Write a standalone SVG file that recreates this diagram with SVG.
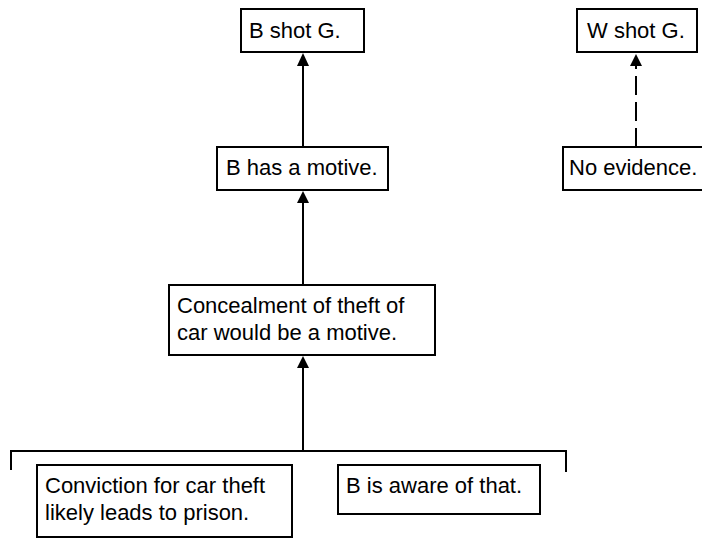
<svg xmlns="http://www.w3.org/2000/svg" width="702" height="539" viewBox="0 0 702 539">
<style>
.box{fill:#fff;stroke:#000;stroke-width:2}
.t{font-family:"Liberation Sans",Arial,sans-serif;font-size:22px;fill:#000}
.c{stroke:#000;stroke-width:2;fill:none}
.dash{stroke-dasharray:19 7}
</style>
<defs>
<marker id="ah" markerWidth="12" markerHeight="13" refX="6" refY="0" orient="0" markerUnits="userSpaceOnUse" overflow="visible">
<path d="M0,13 L6,0 L12,13 Z" fill="#000"/>
</marker>
</defs>
<rect width="702" height="539" fill="#fff"/>
<g id="connectors">
<line class="c" x1="303" y1="147" x2="303" y2="66"/>
<path d="M297,66 L303,53 L309,66 Z" fill="#000"/>
<line class="c" x1="303" y1="285" x2="303" y2="203"/>
<path d="M297,203 L303,191 L309,203 Z" fill="#000"/>
<line class="c" x1="303" y1="451" x2="303" y2="368"/>
<path d="M297,368 L303,356 L309,368 Z" fill="#000"/>
<line class="c dash" x1="636" y1="147" x2="636" y2="66"/>
<path d="M630,66 L636,54 L642,66 Z" fill="#000"/>
<path class="c" d="M11,470 L11,451 L566,451 L566,472"/>
</g>
<g id="n-bshot">
<rect class="box" x="241" y="9" width="123" height="43"/>
<text class="t" x="249" y="38">B shot G.</text>
</g>
<g id="n-wshot">
<rect class="box" x="577" y="9" width="120" height="43"/>
<text class="t" x="587" y="38">W shot G.</text>
</g>
<g id="n-motive">
<rect class="box" x="217" y="147" width="171" height="43"/>
<text class="t" x="226" y="175">B has a motive.</text>
</g>
<g id="n-noevidence">
<rect class="box" x="563" y="147" width="140" height="43"/>
<text class="t" x="569" y="175">No evidence.</text>
</g>
<g id="n-concealment">
<rect class="box" x="169" y="285" width="266" height="70"/>
<text class="t" x="177" y="313">Concealment of theft of</text>
<text class="t" x="177" y="340">car would be a motive.</text>
</g>
<g id="n-conviction">
<rect class="box" x="37" y="465" width="255" height="72"/>
<text class="t" x="45" y="493">Conviction for car theft</text>
<text class="t" x="45" y="520">likely leads to prison.</text>
</g>
<g id="n-aware">
<rect class="box" x="338" y="465" width="202" height="49"/>
<text class="t" x="346" y="493">B is aware of that.</text>
</g>
</svg>
